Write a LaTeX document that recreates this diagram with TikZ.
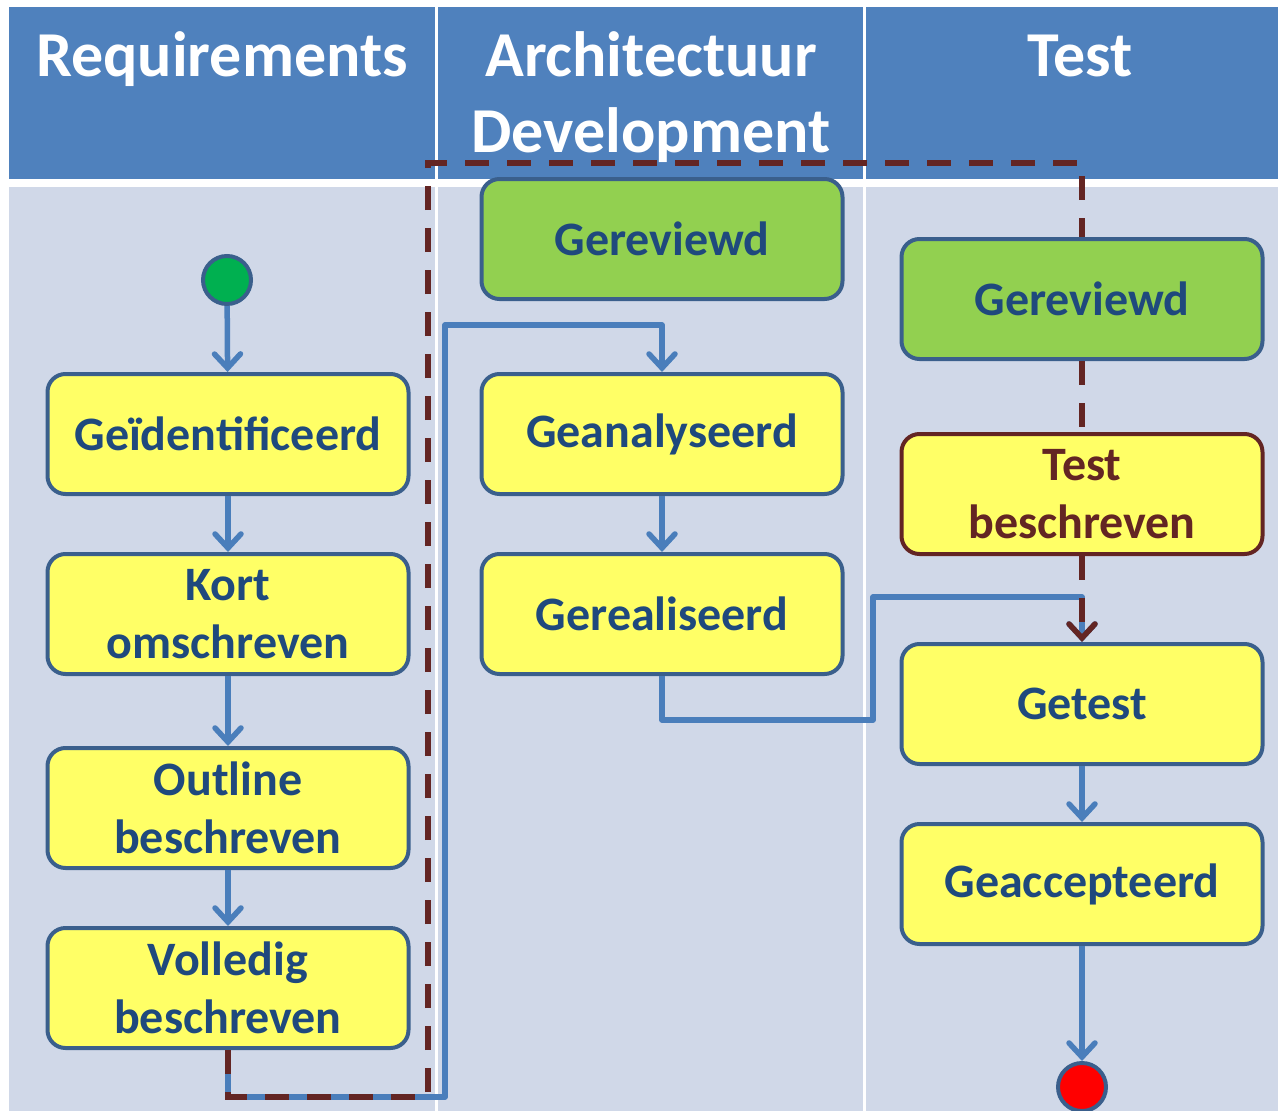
\documentclass[tikz,border=0pt]{standalone}
\usepackage{fontspec}
\setmainfont{Carlito}
\usetikzlibrary{arrows.meta}

\definecolor{headblue}{HTML}{4F81BD}
\definecolor{lanebg}{HTML}{D0D8E8}
\definecolor{nodeedge}{HTML}{3A5F8C}
\definecolor{stateyellow}{HTML}{FFFF66}
\definecolor{stategreen}{HTML}{92D050}
\definecolor{textblue}{HTML}{1F497D}
\definecolor{flowblue}{HTML}{4A7EBB}
\definecolor{darkred}{HTML}{632523}
\definecolor{startgreen}{HTML}{00B050}

\tikzset{
  state/.style={draw=nodeedge, line width=4pt, fill=stateyellow, rounded corners=18pt,
    minimum width=361pt, minimum height=120pt, align=center, text=textblue,
    font=\fontsize{48}{58}\selectfont\bfseries, inner sep=0pt},
  review/.style={state, fill=stategreen},
  teststate/.style={state, draw=darkred, text=darkred},
  terminal/.style={circle, draw=nodeedge, line width=4pt, minimum size=48pt, inner sep=0pt},
  lanehead/.style={text=white, font=\fontsize{64}{76}\selectfont\bfseries, align=center},
  flow/.style={draw=flowblue, line width=5.5pt, line join=round,
    -{Straight Barb[length=14pt, width=26pt, line cap=round]}},
  trace/.style={draw=darkred, line width=5.5pt, dash pattern=on 24pt off 18pt},
  tracearrow/.style={trace, -{Straight Barb[length=14pt, width=26pt, line cap=round]}}
}

\begin{document}
\begin{tikzpicture}[x=1pt, y=-1pt]
  \useasboundingbox (0,0) rectangle (1278,1111);
  \fill[white] (0,0) rectangle (1278,1111);

  % swimlane headers and bodies
  \fill[headblue] (9,7) rectangle (435,179);
  \fill[headblue] (438,7) rectangle (863,179);
  \fill[headblue] (866,7) rectangle (1278,179);
  \fill[lanebg] (9,187) rectangle (435,1111);
  \fill[lanebg] (438,187) rectangle (863,1111);
  \fill[lanebg] (866,187) rectangle (1278,1111);

  % lane titles (base anchor of a two-line node sits on its last line)
  \node[lanehead, anchor=base] (h1) at (222,76) {Requirements};
  \node[lanehead, anchor=base] (h2) at (651,152) {Architectuur\\Development};
  \node[lanehead, anchor=base] (h3) at (1080,76) {Test};

  % requirements lane
  \node[terminal, fill=startgreen] (start) at (227,280) {};
  \node[state] (geid) at (228,434) {Geïdentificeerd};
  \node[state] (kort) at (228,614) {Kort\\omschreven};
  \node[state] (outl) at (228,808) {Outline\\beschreven};
  \node[state] (voll) at (228,988) {Volledig\\beschreven};

  % architecture / development lane
  \node[review] (rev2) at (662,239) {Gereviewd};
  \node[state] (anal) at (662,434) {Geanalyseerd};
  \node[state] (real) at (662,614) {Gerealiseerd};

  % test lane
  \node[review] (rev3) at (1082,299) {Gereviewd};
  \node[teststate] (testb) at (1082,494) {Test\\beschreven};
  \node[state] (getest) at (1082,704) {Getest};
  \node[state] (accept) at (1082,884) {Geaccepteerd};
  \node[terminal, fill=red] (stop) at (1082,1087) {};

  % development flow
  \draw[flow] (start) -- (geid);
  \draw[flow] (geid) -- (kort);
  \draw[flow] (kort) -- (outl);
  \draw[flow] (outl) -- (voll);
  \draw[flow] (voll.south) -- (228,1097) -- (445,1097) -- (445,325) -| (anal.north);
  \draw[flow] (anal) -- (real);
  \draw[flow] (real.south) -- (662,720) -- (873,720) -- (873,597) -| (getest.north);
  \draw[flow] (getest) -- (accept);
  \draw[flow] (accept) -- (stop);

  % test trace
  \draw[trace] (voll.south) -- (228,1097) -- (428,1097) -- (428,163) -| (rev3.north);
  \draw[trace] (rev3) -- (testb);
  \draw[tracearrow] (testb) -- (getest);
\end{tikzpicture}
\end{document}
